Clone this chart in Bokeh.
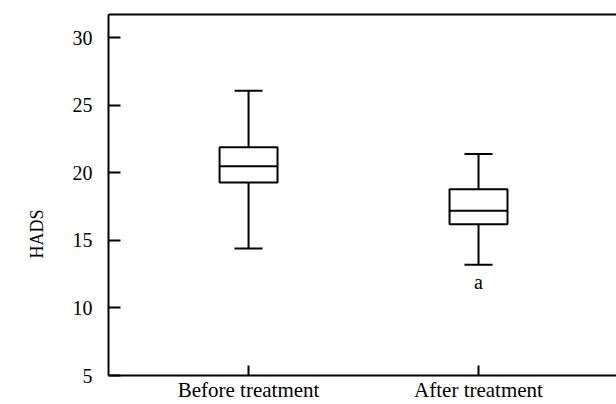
from bokeh.plotting import figure
from bokeh.models import Range1d, FixedTicker, LinearAxis, Title, ColumnDataSource
from bokeh.core.properties import value
from bokeh.embed import file_html
from bokeh.resources import INLINE

categories = ["Before treatment", "After treatment"]
positions = [1, 2]
whisker_low = [14.4, 13.2]
q1 = [19.3, 16.2]
median = [20.5, 17.2]
q3 = [21.9, 18.8]
whisker_high = [26.1, 21.4]
marks = ["", "a"]
y_ticks = [5, 10, 15, 20, 25, 30]
y_title = "HADS"

FONT = "Liberation Serif"
box_w = 0.252
cap_w = 0.122

src = ColumnDataSource(dict(
    x=positions, lo=whisker_low, q1=q1, med=median, q3=q3, hi=whisker_high, mark=marks,
    bx0=[p - box_w / 2 for p in positions], bx1=[p + box_w / 2 for p in positions],
    cx0=[p - cap_w / 2 for p in positions], cx1=[p + cap_w / 2 for p in positions],
))

p = figure(width=616, height=404, output_backend="svg", toolbar_location=None,
           x_range=Range1d(0.391, 2.6), y_range=Range1d(5, 31.74),
           min_border_left=108, min_border_top=14, min_border_right=0, min_border_bottom=29)
p.outline_line_color = None
p.grid.visible = False
p.background_fill_color = "white"
p.border_fill_color = "white"

# whiskers
p.segment(x0="x", y0="q3", x1="x", y1="hi", source=src, line_color="black", line_width=2)
p.segment(x0="x", y0="lo", x1="x", y1="q1", source=src, line_color="black", line_width=2)
p.segment(x0="cx0", y0="hi", x1="cx1", y1="hi", source=src, line_color="black", line_width=2)
p.segment(x0="cx0", y0="lo", x1="cx1", y1="lo", source=src, line_color="black", line_width=2)
# boxes
p.vbar(x="x", width=box_w, bottom="q1", top="q3", source=src,
       fill_color="white", line_color="black", line_width=2)
p.segment(x0="bx0", y0="med", x1="bx1", y1="med", source=src, line_color="black", line_width=2)
# significance mark
p.text(x="x", y="lo", text="mark", source=src, y_offset=17, text_align="center",
       text_baseline="middle", text_font=value(FONT), text_font_size="20px", text_color="black")

# axes
xa = p.xaxis[0]
xa.ticker = FixedTicker(ticks=positions)
xa.major_label_overrides = {pos: c for pos, c in zip(positions, categories)}
xa.major_tick_in = 10
xa.major_tick_out = 0
xa.minor_tick_line_color = None
xa.axis_line_width = 2
xa.major_tick_line_width = 2
xa.major_label_text_font = FONT
xa.major_label_text_font_size = "21px"
xa.major_label_text_color = "black"
xa.major_label_standoff = 2

ya = p.yaxis[0]
ya.ticker = FixedTicker(ticks=y_ticks)
ya.major_tick_in = 12
ya.major_tick_out = 0
ya.minor_tick_line_color = None
ya.axis_line_width = 2
ya.major_tick_line_width = 2
ya.major_label_text_font = FONT
ya.major_label_text_font_size = "20px"
ya.major_label_text_color = "black"
ya.major_label_standoff = 16

top = LinearAxis(ticker=FixedTicker(ticks=[]), axis_line_width=2, axis_line_color="black",
                 major_tick_line_color=None, minor_tick_line_color=None,
                 major_label_text_font_size="0px", major_label_standoff=0)
p.add_layout(top, "above")

p.add_layout(Title(text=y_title, align="left", vertical_align="top", offset=117, standoff=41,
                   text_font=FONT, text_font_size="18px", text_font_style="normal",
                   text_color="black"), "left")

open("out.html", "w").write(file_html(p, INLINE))
